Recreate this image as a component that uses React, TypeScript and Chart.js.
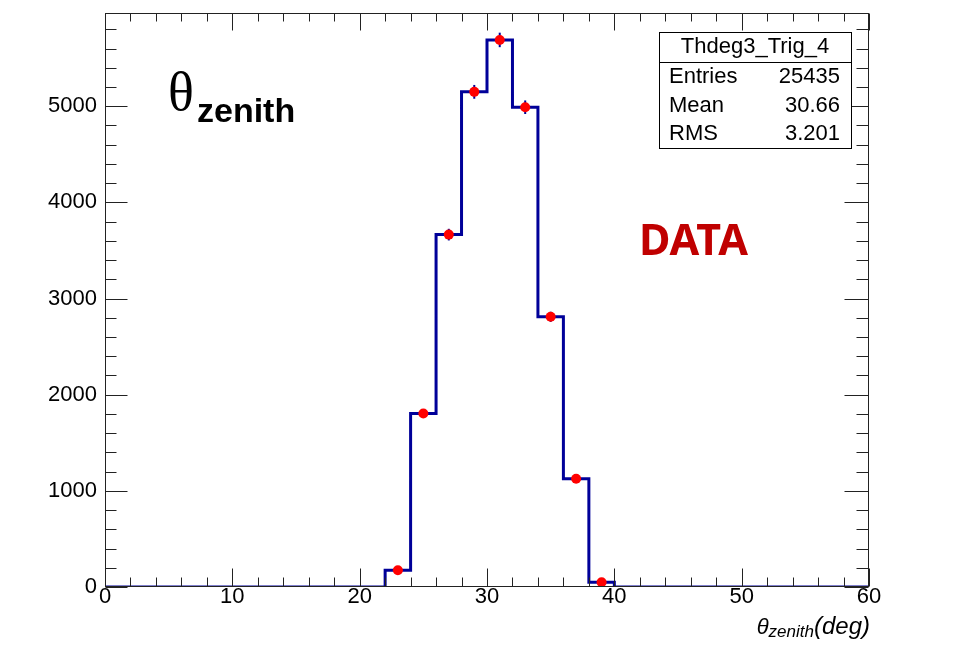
import React, { useEffect, useRef } from "react";
import { Chart, registerables } from "chart.js";

Chart.register(...registerables);

// ---- data ----
const binCenters = [1, 3, 5, 7, 9, 11, 13, 15, 17, 19, 21, 23, 25, 27, 29, 31, 33, 35, 37, 39, 41, 43, 45, 47, 49, 51, 53, 55, 57, 59];
const counts = [0, 0, 0, 0, 0, 0, 0, 0, 0, 0, 0, 175, 1805, 3665, 5150, 5690, 4990, 2810, 1125, 50, 0, 0, 0, 0, 0, 0, 0, 0, 0, 0];
const binWidth = 2;
const xTickValues = [0, 10, 20, 30, 40, 50, 60];
const yTickValues = [0, 1000, 2000, 3000, 4000, 5000];
const xMin = 0;
const xMax = 60;
const yMax = 5970;
const statsTitle = "Thdeg3_Trig_4";
const statsLabels = ["Entries", "Mean", "RMS"];
const statsValues = ["25435", "30.66", "3.201"];
const bigLabelMain = "θ";
const bigLabelSub = "zenith";
const dataLabel = "DATA";
const xTitleMain = "θ";
const xTitleSub = "zenith";
const xTitleUnit = "(deg)";

const LINE_BLUE = "#000099";
const FRAME = "#222";

export default function App() {
  const ref = useRef<HTMLCanvasElement>(null);

  useEffect(() => {
    document.body.style.margin = "0";
    const canvas = ref.current!;
    const stepData: { x: number; y: number }[] = binCenters.map((c, i) => ({ x: c - binWidth / 2, y: counts[i] }));
    stepData.push({ x: binCenters[binCenters.length - 1] + binWidth / 2, y: counts[counts.length - 1] });
    const pointData = binCenters
      .map((c, i) => ({ x: c, y: counts[i] }))
      .filter((p) => p.y > 0);

    const decor = {
      id: "decor",
      beforeDatasetsDraw(chart: any) {
        const { ctx, scales } = chart;
        const x = scales.x, y = scales.y;
        ctx.save();
        ctx.strokeStyle = LINE_BLUE;
        ctx.lineWidth = 2;
        pointData.forEach((p) => {
          const err = Math.sqrt(p.y);
          const px = x.getPixelForValue(p.x);
          ctx.beginPath();
          ctx.moveTo(px, y.getPixelForValue(p.y + err));
          ctx.lineTo(px, y.getPixelForValue(p.y - err));
          ctx.stroke();
        });
        ctx.restore();
      },
      afterDraw(chart: any) {
        const { ctx, chartArea: a, scales } = chart;
        const x = scales.x, y = scales.y;
        ctx.save();
        // frame
        ctx.strokeStyle = FRAME;
        ctx.lineWidth = 1;
        const L = Math.round(a.left) + 0.5, R = Math.round(a.right) - 0.5;
        const T = Math.round(a.top) + 0.5, B = Math.round(a.bottom) - 0.5;
        ctx.strokeRect(L, T, R - L, B - T);
        ctx.beginPath();
        for (let v = xMin; v <= xMax; v += 2) {
          const px = Math.round(x.getPixelForValue(v)) + 0.5;
          const major = v % 10 === 0;
          const lb = major ? 18 : 9;
          const lt = major ? 17 : 8;
          ctx.moveTo(px, B); ctx.lineTo(px, B - lb);
          ctx.moveTo(px, T); ctx.lineTo(px, T + lt);
        }
        for (let v = 0; v <= yMax; v += 200) {
          const py = Math.round(y.getPixelForValue(v)) + 0.5;
          const major = v % 1000 === 0;
          const ll = major ? 22 : 11;
          const lr = major ? 24 : 12;
          ctx.moveTo(L, py); ctx.lineTo(L + ll, py);
          ctx.moveTo(R, py); ctx.lineTo(R - lr, py);
        }
        ctx.stroke();

        // big theta label
        ctx.fillStyle = "#000";
        ctx.textBaseline = "alphabetic";
        ctx.textAlign = "left";
        ctx.font = "54px 'Liberation Serif', 'DejaVu Serif', serif";
        ctx.fillText(bigLabelMain, 168, 110);
        ctx.font = "bold 34px 'Liberation Sans', Arial, sans-serif";
        ctx.fillText(bigLabelSub, 197, 122);

        // DATA
        ctx.fillStyle = "#c00000";
        ctx.font = "bold 43px 'Noto Sans', 'Liberation Sans', sans-serif";
        ctx.fillText(dataLabel, 639, 255);

        // stats box
        ctx.fillStyle = "#fff";
        ctx.fillRect(659, 32, 192, 116);
        ctx.strokeStyle = "#000";
        ctx.lineWidth = 1;
        ctx.strokeRect(659.5, 32.5, 192, 116);
        ctx.beginPath();
        ctx.moveTo(659.5, 62.5); ctx.lineTo(851.5, 62.5);
        ctx.stroke();
        ctx.fillStyle = "#000";
        ctx.font = "22px 'Liberation Sans', Arial, sans-serif";
        ctx.textBaseline = "middle";
        ctx.textAlign = "center";
        ctx.fillText(statsTitle, 755, 47);
        statsLabels.forEach((lab, i) => {
          const cy = 77 + i * 28.5;
          ctx.textAlign = "left";
          ctx.fillText(lab, 669, cy);
          ctx.textAlign = "right";
          ctx.fillText(statsValues[i], 840, cy);
        });

        // x-axis title
        ctx.textBaseline = "alphabetic";
        ctx.textAlign = "right";
        ctx.font = "italic 24px 'Liberation Sans', Arial, sans-serif";
        const unitW = ctx.measureText(xTitleUnit).width;
        ctx.fillText(xTitleUnit, 870, 634);
        ctx.font = "italic 17px 'Liberation Sans', Arial, sans-serif";
        const subW = ctx.measureText(xTitleSub).width;
        ctx.fillText(xTitleSub, 870 - unitW, 637);
        ctx.font = "italic 22px 'Liberation Sans', Arial, sans-serif";
        ctx.fillText(xTitleMain, 870 - unitW - subW, 634);
        ctx.restore();
      },
    };

    const chart = new Chart(canvas, {
      type: "line",
      data: {
        datasets: [
          {
            type: "scatter",
            data: pointData,
            pointRadius: 5,
            pointHoverRadius: 5,
            pointBackgroundColor: "#ff0000",
            pointBorderWidth: 0,
            showLine: false,
            order: 0,
          } as any,
          {
            type: "line",
            data: stepData,
            stepped: true,
            borderColor: LINE_BLUE,
            borderWidth: 3,
            pointRadius: 0,
            fill: false,
            order: 1,
          } as any,
        ],
      },
      options: {
        animation: false,
        responsive: false,
        events: [],
        layout: { padding: { left: 0, right: 86, top: 13, bottom: 0 } },
        plugins: { legend: { display: false }, tooltip: { enabled: false }, title: { display: false } },
        scales: {
          x: {
            type: "linear",
            min: xMin,
            max: xMax,
            grid: { display: false, drawTicks: false },
            border: { display: false },
            afterBuildTicks: (s: any) => { s.ticks = xTickValues.map((v) => ({ value: v })); },
            ticks: {
              padding: -3,
              color: "#000",
              font: { family: "'Liberation Sans', Arial, sans-serif", size: 22 },
              callback: (v: any) => String(v),
              maxRotation: 0,
            },
            afterFit: (s: any) => { s.height = 66; },
          },
          y: {
            type: "linear",
            min: 0,
            max: yMax,
            grid: { display: false, drawTicks: false },
            border: { display: false },
            afterBuildTicks: (s: any) => { s.ticks = yTickValues.map((v) => ({ value: v })); },
            ticks: {
              padding: 8,
              color: "#000",
              font: { family: "'Liberation Sans', Arial, sans-serif", size: 22 },
              callback: (v: any) => String(v),
            },
            afterFit: (s: any) => { s.width = 105; s.paddingTop = 0; s.paddingBottom = 0; },
          },
        },
      },
      plugins: [decor],
    } as any);
    return () => chart.destroy();
  }, []);

  return (
    <div style={{ width: 955, height: 653 }}>
      <canvas ref={ref} width={955} height={653} style={{ display: "block" }} />
    </div>
  );
}
